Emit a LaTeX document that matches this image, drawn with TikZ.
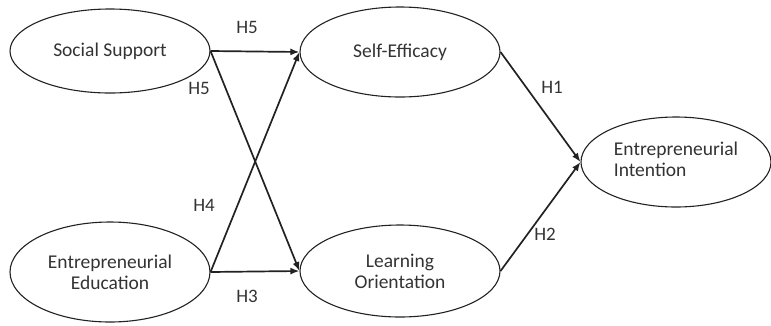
\documentclass[tikz,border=0pt]{standalone}
\usepackage{fontspec}
\setmainfont{Carlito}
\usetikzlibrary{shapes.geometric,arrows.meta}
\definecolor{ink}{HTML}{222222}
\definecolor{txt}{HTML}{333333}
\tikzset{
  ellbase/.style={ellipse,draw=ink,line width=1.1pt,inner sep=0pt,
    minimum width=200pt,minimum height=84pt,text=txt,
    font=\fontsize{19.5}{21}\selectfont},
  construct/.style={ellbase,align=center},
  path/.style={draw=ink,line width=1.7pt,-{Latex[length=9pt,width=7pt]}},
  hlabel/.style={text=txt,font=\fontsize{19}{21}\selectfont,inner sep=0pt}
}
\begin{document}
\begin{tikzpicture}[x=1pt,y=-1pt]
\useasboundingbox (0,0) rectangle (771,325);
\node[construct] (ss) at (110,51) {Social Support};
\node[construct,minimum height=90pt] (se) at (400,52) {Self-Efficacy};
\node[construct,minimum height=100pt] (ee) at (110,272) {Entrepreneurial\\Education};
\node[construct,minimum height=92pt] (lo) at (400,271) {Learning\\Orientation};
\node[ellbase,minimum width=190pt,minimum height=90pt] (ei) at (676,162) {\begin{tabular}{@{}l@{}}Entrepreneurial\\Intention\end{tabular}};
\draw[path] (ss.east) -- (se.west);
\draw[path] (ss.east) -- (lo.west);
\draw[path] (ee.east) -- (se.west);
\draw[path] (ee.east) -- (lo.west);
\draw[path] (se.east) -- (ei.west);
\draw[path] (lo.east) -- (ei.west);
\node[hlabel] (h5a) at (247,27) {H5};
\node[hlabel] (h5b) at (199,88) {H5};
\node[hlabel] (h4) at (204,205) {H4};
\node[hlabel] (h3) at (247,296) {H3};
\node[hlabel] (h1) at (552,87) {H1};
\node[hlabel] (h2) at (545,234) {H2};
\end{tikzpicture}
\end{document}
